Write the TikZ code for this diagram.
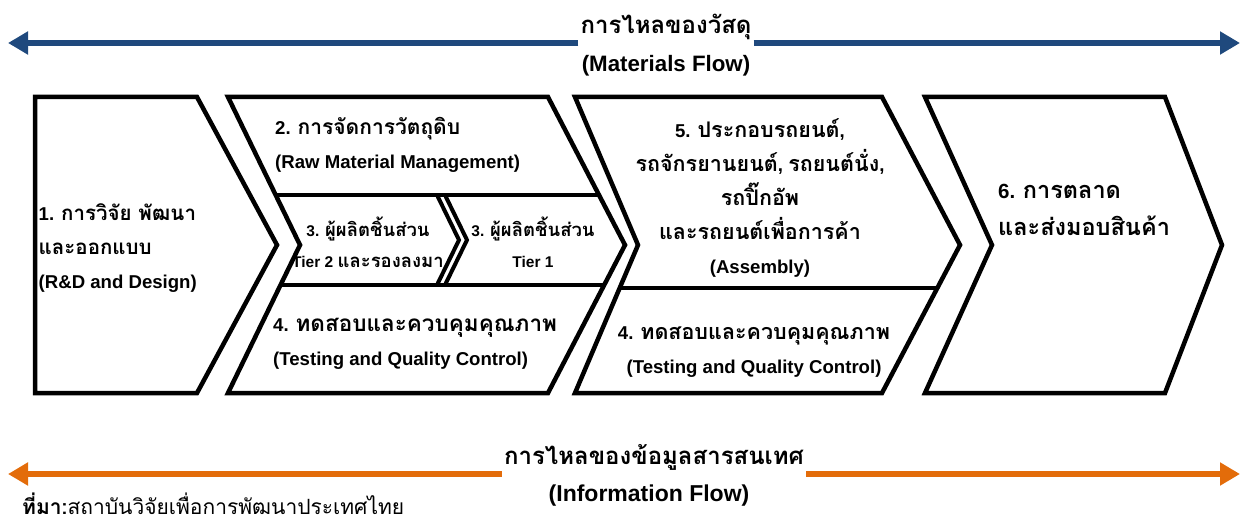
\documentclass[tikz,border=0pt]{standalone}
\usepackage{fontspec}
\setmainfont{Liberation Sans}
\newfontfamily\thaifont[Script=Thai]{Loma}
\usetikzlibrary{calc,arrows.meta}
\definecolor{matblue}{HTML}{1F497D}
\definecolor{infoorange}{HTML}{E36C0A}
\def\thsz{21}
\def\thskip{34}
\newcommand{\thx}[1]{{\thaifont\fontsize{\thsz}{\thskip}\selectfont #1}}

\begin{document}
\begin{tikzpicture}[x=1pt,y=-1pt,
  chev/.style={draw=black, line width=4.5pt, line join=miter, fill=white},
  sepline/.style={draw=black, line width=4.5pt},
  % #1 = Latin size, #2 = Thai size, #3 = line spacing
  lbl/.style n args={3}{font={\bfseries\def\thsz{#2}\def\thskip{#3}\fontsize{#1}{#3}\selectfont}, inner sep=0pt},
  ttl/.style={font=\bfseries\fontsize{#1}{24}\selectfont, inner sep=0pt},
  flowline/.style={line width=6pt, draw=#1, -{Triangle[length=20pt,width=22pt]}},
]
\useasboundingbox (0,0) rectangle (1244,524);

% ---------- stage 1: research and design ----------
\draw[chev] (35,97) -- (197,97) -- (277,245) -- (197,393) -- (35,393) -- cycle;

% ---------- stages 2-4: materials, parts, testing ----------
\coordinate (aTL) at (228,97);  \coordinate (aTR) at (548,97);
\coordinate (aTip) at (625,245); \coordinate (aBR) at (548,393);
\coordinate (aBL) at (228,393); \coordinate (aNotch) at (300,245);
\draw[chev] (aTL) -- (aTR) -- (aTip) -- (aBR) -- (aBL) -- (aNotch) -- cycle;
% row of part makers
\coordinate (rowTL) at ($(aTL)!0.662!(aNotch)$);
\coordinate (rowTR) at ($(aTR)!0.662!(aTip)$);
\coordinate (rowBL) at ($(aNotch)!0.27!(aBL)$);
\coordinate (rowBR) at ($(aTip)!0.27!(aBR)$);
\draw[sepline] (rowTL) -- (rowTR);
\draw[sepline] (rowBL) -- (rowBR);
% tier 2 point and tier 1 notch
\draw[sepline, line width=4pt, line join=miter] (437,195) -- (459,240) -- (437,285);
\draw[sepline, line width=4pt, line join=miter] (445,195) -- (467,240) -- (445,285);

% ---------- stage 5 and its testing ----------
\coordinate (bTL) at (575,97);  \coordinate (bTR) at (882,97);
\coordinate (bTip) at (960,245); \coordinate (bBR) at (882,393);
\coordinate (bBL) at (575,393); \coordinate (bNotch) at (638,245);
\draw[chev] (bTL) -- (bTR) -- (bTip) -- (bBR) -- (bBL) -- (bNotch) -- cycle;
\draw[sepline] ($(bNotch)!0.29!(bBL)$) -- ($(bTip)!0.29!(bBR)$);

% ---------- stage 6: marketing ----------
\draw[chev] (925,97) -- (1165,97) -- (1222,245) -- (1165,393) -- (925,393) -- (992,245) -- cycle;

% ---------- labels ----------
\node[lbl={18.6}{20.5}{34}, anchor=west, align=left] (rnd) at (38.5,248)
  {1. \thx{การวิจัย พัฒนา}\\ \thx{และออกแบบ}\\ (R\&D and Design)};
\node[lbl={18.6}{21}{34}, anchor=west, align=left] (raw) at (275,145)
  {2. \thx{การจัดการวัตถุดิบ}\\ (Raw Material Management)};
\node[lbl={15.5}{18.5}{31}, align=center] (tier2) at (368,242)
  {3. \thx{ผู้ผลิตชิ้นส่วน}\\ Tier 2 \thx{และรองลงมา}};
\node[lbl={15.5}{18.5}{31}, align=center] (tier1) at (533,242)
  {3. \thx{ผู้ผลิตชิ้นส่วน}\\ Tier 1};
\node[lbl={18.6}{22.5}{34}, anchor=west, align=left] (qcA) at (273,344)
  {4. \thx{ทดสอบและควบคุมคุณภาพ}\\ (Testing and Quality Control)};
\node[lbl={18.6}{21.5}{34}, align=center] (asm) at (760,198)
  {5. \thx{ประกอบรถยนต์},\\ \thx{รถจักรยานยนต์}, \thx{รถยนต์นั่ง},\\ \thx{รถปิ๊กอัพ}\\ \thx{และรถยนต์เพื่อการค้า}\\ (Assembly)};
\node[lbl={18.6}{21.5}{34}, align=center] (qcB) at (754,352)
  {4. \thx{ทดสอบและควบคุมคุณภาพ}\\ (Testing and Quality Control)};
\node[lbl={20.5}{23.5}{37}, anchor=west, align=left] (mkt) at (998,210)
  {6. \thx{การตลาด}\\ \thx{และส่งมอบสินค้า}};

% ---------- materials flow ----------
\node[ttl=22.3] (matth) at (666,27) {\def\thsz{24}\thx{การไหลของวัสดุ}};
\node[ttl=22.3] (maten) at (666,66) {(Materials Flow)};
\coordinate (matL) at (8,43);
\coordinate (matR) at (1240,43);
\draw[flowline=matblue] ([xshift=-2pt]matth.west |- matL) -- (matL);
\draw[flowline=matblue] ([xshift=2pt]matth.east |- matR) -- (matR);

% ---------- information flow ----------
\node[ttl=23] (infth) at (654,457) {\def\thsz{24}\thx{การไหลของข้อมูลสารสนเทศ}};
\node[ttl=23] (infen) at (649,496) {(Information Flow)};
\coordinate (infL) at (8,474);
\coordinate (infR) at (1240,474);
\draw[flowline=infoorange] ([xshift=-2pt]infth.west |- infL) -- (infL);
\draw[flowline=infoorange] ([xshift=2pt]infth.east |- infR) -- (infR);

% ---------- source ----------
\node[inner sep=0pt, anchor=base west, font=\def\thsz{21}\def\thskip{23}] (src) at (22,514)
  {\thx{\bfseries ที่มา:}\thx{สถาบันวิจัยเพื่อการพัฒนาประเทศไทย}};
\end{tikzpicture}
\end{document}
